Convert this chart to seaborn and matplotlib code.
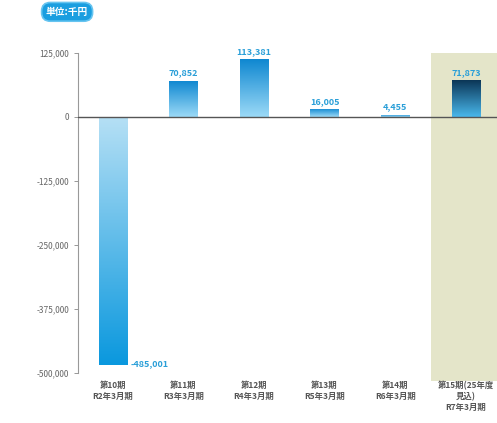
import numpy as np
import pandas as pd
import matplotlib
matplotlib.use("Agg")
import matplotlib.pyplot as plt
from matplotlib.colors import LinearSegmentedColormap
from matplotlib.ticker import FuncFormatter
import seaborn as sns

sns.set_theme(style="white")
plt.rcParams["font.family"] = ["Noto Sans CJK JP", "DejaVu Sans"]

# 当期純利益(単位:千円)
periods = ["第10期\nR2年3月期", "第11期\nR3年3月期", "第12期\nR4年3月期",
           "第13期\nR5年3月期", "第14期\nR6年3月期", "第15期(25年度\n見込)\nR7年3月期"]
values = [-485001, 70852, 113381, 16005, 4455, 71873]
value_labels = ["-485,001", "70,852", "113,381", "16,005", "4,455", "71,873"]
y_ticks = [125000, 0, -125000, -250000, -375000, -500000]

df = pd.DataFrame({"period": periods, "value": values})

fig = plt.figure(figsize=(4.97, 4.23), dpi=100)
ax = fig.add_axes([0.157, 0.118, 0.843, 0.757])

sns.barplot(data=df, x="period", y="value", ax=ax, width=0.4,
            color="#1a9ee0", saturation=1, zorder=3)
bars = list(ax.patches)

ax.set_xlim(-0.49, 5.44)
ax.set_ylim(-500000, 125000)

# forecast column highlight (runs slightly below the plot area)
ax.axvspan(4.5, 5.44, ymin=-0.025, ymax=1.0, color="#e4e5c9", zorder=0,
           lw=0, clip_on=False)

# gradient fills for each bar
grad_neg = LinearSegmentedColormap.from_list("neg", ["#0a98de", "#b6e0f5"])
grad_pos = LinearSegmentedColormap.from_list("pos", ["#9cdaf7", "#0c86d0"])
grad_fc = LinearSegmentedColormap.from_list("fc", ["#49b8ec", "#0b3556"])
grad = np.linspace(0, 1, 256).reshape(-1, 1)
for i, patch in enumerate(bars):
    x0, y0 = patch.get_x(), patch.get_y()
    w, h = patch.get_width(), patch.get_height()
    lo, hi = min(y0, y0 + h), max(y0, y0 + h)
    if values[i] < 0:
        cmap = grad_neg
    elif i == len(values) - 1:
        cmap = grad_fc
    else:
        cmap = grad_pos
    img = ax.imshow(grad, cmap=cmap, aspect="auto", origin="lower",
                    extent=[x0, x0 + w, lo, hi], zorder=3)
    img.set_clip_path(patch)
    patch.set_facecolor("none")
    patch.set_edgecolor("none")

ax.set_xlim(-0.49, 5.44)
ax.set_ylim(-500000, 125000)

# value labels
for i, (v, lab) in enumerate(zip(values, value_labels)):
    if v < 0:
        ax.text(i + 0.25, v + 4000, lab, color="#2a9fd8", fontsize=6.5,
                ha="left", va="center", zorder=5, fontweight="bold")
    else:
        ax.text(i, v + 6000, lab, color="#2a9fd8", fontsize=6.5,
                ha="center", va="bottom", zorder=5, fontweight="bold")

ax.axhline(0, color="#555555", lw=1.0, zorder=4)

ax.set_yticks(y_ticks)
ax.yaxis.set_major_formatter(FuncFormatter(lambda v, p: f"{int(v):,}"))
ax.tick_params(axis="y", labelsize=6, colors="#888888", length=3, width=0.6,
               direction="out", left=True)
ax.tick_params(axis="x", labelsize=6, colors="#444444", length=0, pad=6)
for lab in ax.get_yticklabels():
    lab.set_color("#666666")
for lab in ax.get_xticklabels():
    lab.set_fontweight("bold")
    lab.set_color("#555555")
ax.set_xlabel("")
ax.set_ylabel("")

for s in ["top", "right", "bottom"]:
    ax.spines[s].set_visible(False)
ax.spines["left"].set_color("#999999")
ax.spines["left"].set_linewidth(0.8)

# unit badge
fig.text(0.135, 0.972, "単位:千円", color="white", fontsize=7, ha="center",
         va="center", fontweight="bold",
         bbox=dict(boxstyle="round,pad=0.45,rounding_size=0.9", fc="#1a9ee0",
                   ec="#66c4f0", lw=1.2))

fig.savefig("out.png", dpi=100)
